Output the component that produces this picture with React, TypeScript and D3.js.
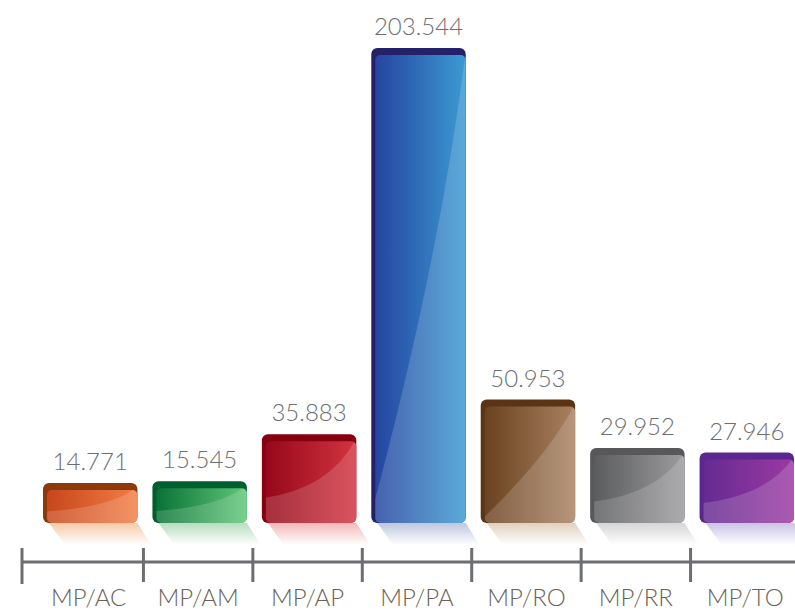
import React from "react";
import * as d3 from "d3";

// dados
const categories = ["MP/AC", "MP/AM", "MP/AP", "MP/PA", "MP/RO", "MP/RR", "MP/TO"];
const values = [14771, 15545, 35883, 203544, 50953, 29952, 27946];

// paleta: [topo escuro, gradiente início, gradiente fim, reflexo]
const PALETTE: string[][] = [
    ["#8c3a0c", "#c8461a", "#f27e46", "#f3b88a"],
    ["#005f2e", "#0a7236", "#60c878", "#9fd2aa"],
    ["#86000f", "#96081a", "#d2343f", "#f0a0a0"],
    ["#24206a", "#2544a0", "#3c9ad2", "#a8b4d4"],
    ["#5a3414", "#6a4220", "#a98262", "#d8c0a8"],
    ["#58585a", "#5b5c5e", "#9c9c9e", "#c8c8ca"],
    ["#5c2690", "#652a92", "#9c3aa2", "#b8b0dc"],
];

const W = 795;
const H = 611;
const FONT = "Lato, 'Open Sans', sans-serif";

const fmt = d3.formatLocale({ decimal: ",", thousands: ".", grouping: [3], currency: ["R$", ""] }).format(",d");

const App: React.FC = () => {
    const x = d3.scaleBand().domain(categories).range([34, 800]).padding(0);
    const y = d3.scaleLinear().domain([0, 203544]).range([517, 48]);
    const base = y(0) + 6;
    const axisY = 562;
    const step = x.step();

    return (
        <div style={{ position: "absolute", left: 0, top: 0 }}>
            <svg width={W} height={H} style={{ display: "block", background: "#fff" }}>
                <defs>
                    {PALETTE.map((p, i) => (
                        <React.Fragment key={i}>
                            <linearGradient id={`main-${i}`} x1="0" x2="1" y1="0" y2="0">
                                <stop offset="0%" stopColor={p[1]} />
                                <stop offset="100%" stopColor={p[2]} />
                            </linearGradient>
                            <linearGradient id={`refl-${i}`} x1="0" x2="0" y1="0" y2="1">
                                <stop offset="0%" stopColor={p[3]} stopOpacity={0.75} />
                                <stop offset="100%" stopColor={p[3]} stopOpacity={0} />
                            </linearGradient>
                        </React.Fragment>
                    ))}
                    {categories.map((c, i) => {
                        const bx = x(c)! + 9;
                        const bw = step - 15;
                        const top = y(values[i]);
                        return (
                            <clipPath id={`clip-${i}`} key={c}>
                                <rect x={bx + 4} y={top + 7} width={bw - 4} height={base - top - 7} rx={5} />
                            </clipPath>
                        );
                    })}
                </defs>

                {categories.map((c, i) => {
                    const p = PALETTE[i];
                    const bx = x(c)! + 9;
                    const bw = step - 15;
                    const top = y(values[i]);
                    const h = base - top;
                    const glossStartY = top + (h < 100 ? h * 0.72 : h * 0.98);
                    const gloss = `M${bx},${base} L${bx},${glossStartY} Q${bx + bw * 0.72},${top + h * (h < 100 ? 0.62 : 0.45)} ${bx + bw},${top + 4} L${bx + bw},${base} Z`;
                    const reflH = 22;
                    const refl = `M${bx + 6},${base} L${bx + bw},${base} L${bx + bw + 14},${base + reflH} L${bx + 22},${base + reflH} Z`;
                    return (
                        <g key={c}>
                            <path d={refl} fill={`url(#refl-${i})`} />
                            <rect x={bx} y={top} width={bw} height={h} rx={6} fill={p[0]} />
                            <rect x={bx + 4} y={top + 7} width={bw - 4} height={h - 7} rx={5} fill={`url(#main-${i})`} />
                            <path d={gloss} fill="#fff" opacity={0.16} clipPath={`url(#clip-${i})`} />
                            <text
                                x={bx + bw / 2}
                                y={top - 13}
                                textAnchor="middle"
                                fill="#6d6e71"
                                fontSize={24}
                                fontWeight={300}
                                fontFamily={FONT}
                            >
                                {fmt(values[i])}
                            </text>
                        </g>
                    );
                })}

                {/* eixo */}
                <line x1={22} x2={W} y1={axisY} y2={axisY} stroke="#6d6e71" strokeWidth={3} />
                <line x1={22} x2={22} y1={axisY - 14} y2={axisY + 22} stroke="#6d6e71" strokeWidth={3} />
                {categories.slice(1).map((c) => (
                    <line key={c} x1={x(c)!} x2={x(c)!} y1={axisY - 14} y2={axisY + 20} stroke="#6d6e71" strokeWidth={3} />
                ))}
                {categories.map((c) => (
                    <text
                        key={c}
                        x={x(c)! + step / 2}
                        y={606}
                        textAnchor="middle"
                        fill="#6b6256"
                        fontSize={24}
                        fontWeight={300}
                        fontFamily={FONT}
                    >
                        {c}
                    </text>
                ))}
            </svg>
        </div>
    );
};

export default App;
